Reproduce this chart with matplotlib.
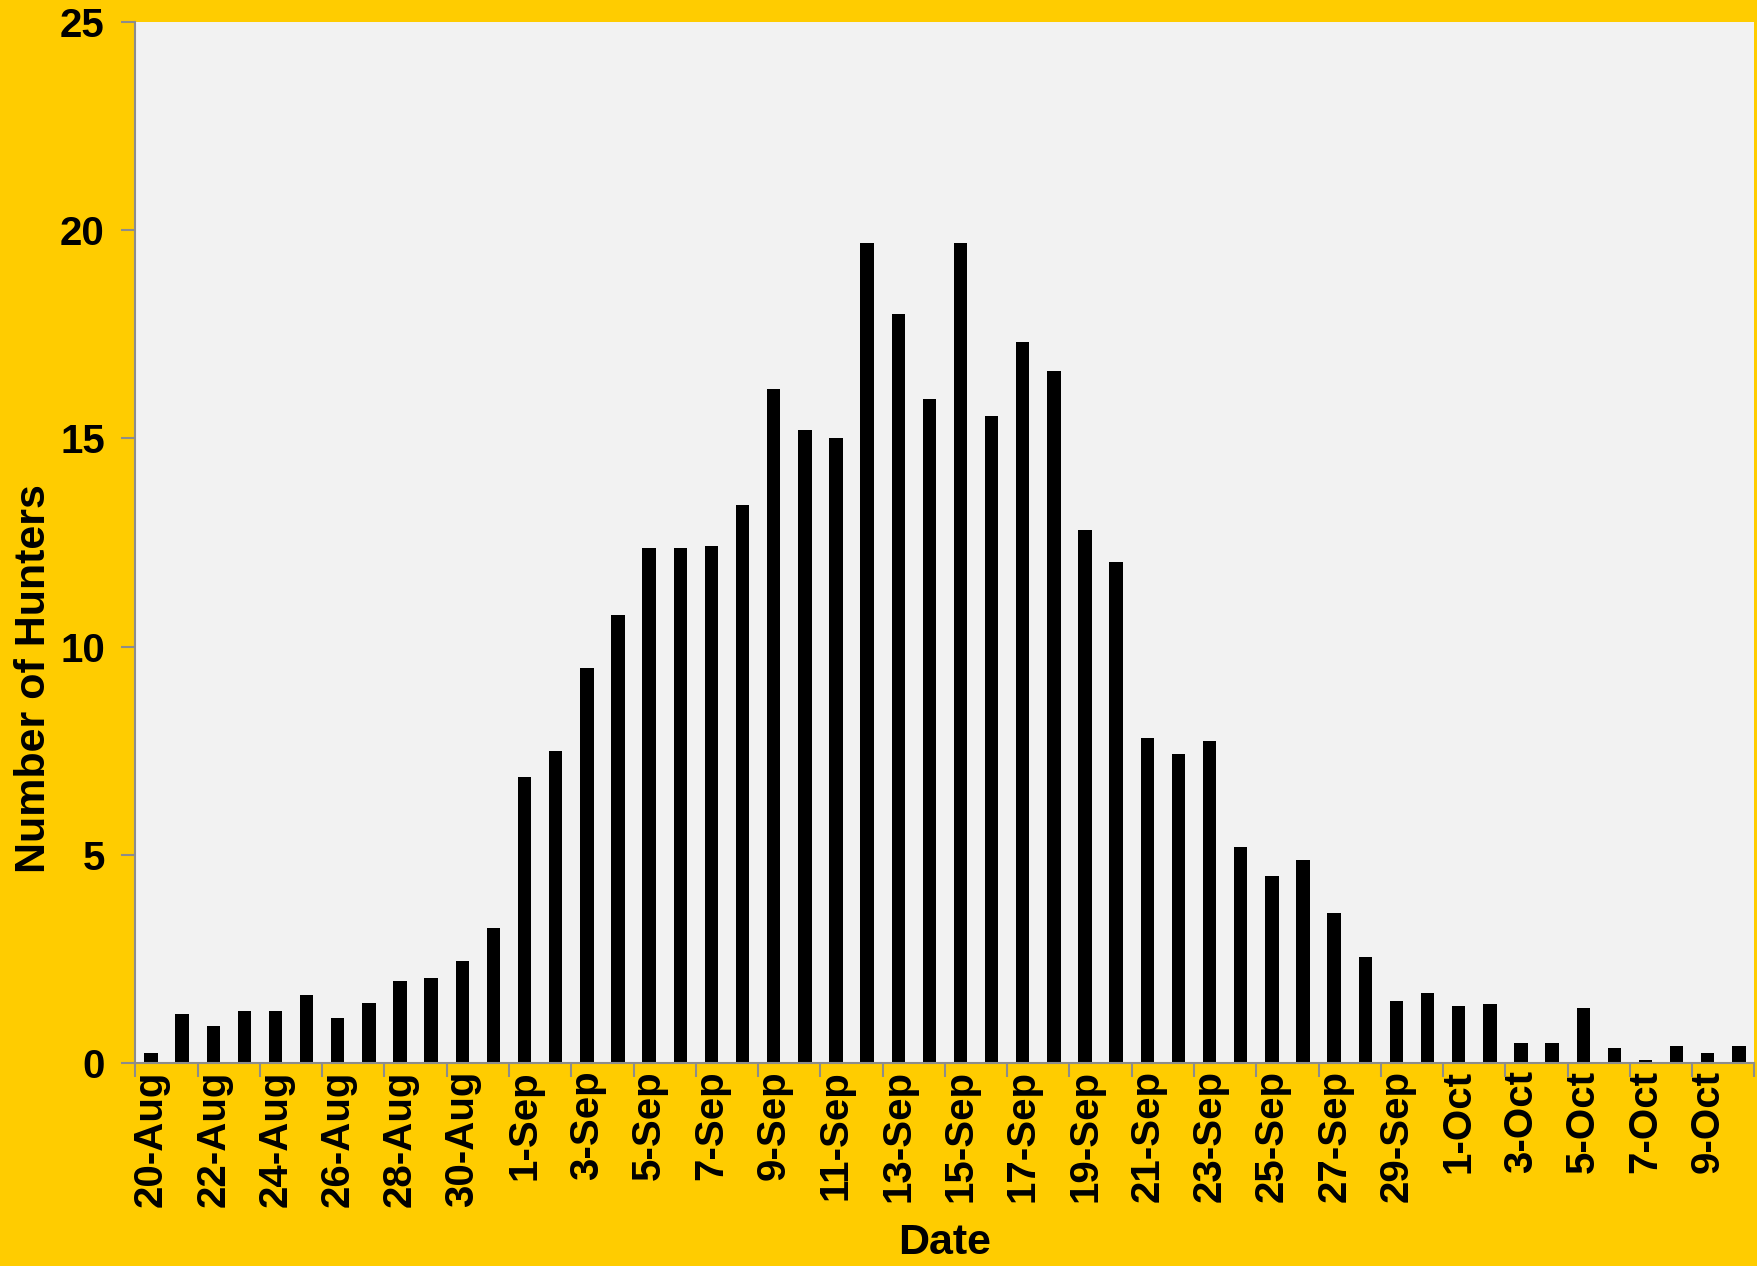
import matplotlib.pyplot as plt

dates = ['20-Aug', '21-Aug', '22-Aug', '23-Aug', '24-Aug', '25-Aug', '26-Aug', '27-Aug',
         '28-Aug', '29-Aug', '30-Aug', '31-Aug',
         '1-Sep', '2-Sep', '3-Sep', '4-Sep', '5-Sep', '6-Sep', '7-Sep', '8-Sep', '9-Sep',
         '10-Sep', '11-Sep', '12-Sep', '13-Sep', '14-Sep', '15-Sep', '16-Sep', '17-Sep',
         '18-Sep', '19-Sep', '20-Sep', '21-Sep', '22-Sep', '23-Sep', '24-Sep', '25-Sep',
         '26-Sep', '27-Sep', '28-Sep', '29-Sep', '30-Sep',
         '1-Oct', '2-Oct', '3-Oct', '4-Oct', '5-Oct', '6-Oct', '7-Oct', '8-Oct', '9-Oct',
         '10-Oct']

hunters = [0.24, 1.18, 0.89, 1.26, 1.26, 1.64, 1.08, 1.45, 1.99, 2.04, 2.45, 3.25,
           6.88, 7.5, 9.49, 10.75, 12.37, 12.37, 12.42, 13.41, 16.18, 15.19, 15.0,
           19.68, 17.98, 15.94, 19.68, 15.54, 17.31, 16.61, 12.8, 12.04, 7.82, 7.42,
           7.74, 5.19, 4.49, 4.87, 3.6, 2.55, 1.5, 1.69,
           1.37, 1.42, 0.48, 0.48, 1.32, 0.38, 0.08, 0.43, 0.24, 0.43]

plt.rcParams['font.family'] = ['Liberation Sans', 'DejaVu Sans']
plt.rcParams['font.weight'] = 'bold'

fig = plt.figure(figsize=(17.58, 12.66), dpi=100, facecolor='#ffcc00')
ax = fig.add_axes([0.077, 0.16, 0.921, 0.823])
ax.set_facecolor('#f2f2f2')

x = list(range(len(dates)))
ax.bar(x, hunters, width=0.43, color='black')

ax.set_xlim(-0.5, len(dates) - 0.5)
ax.set_ylim(0, 25)
ax.set_yticks([0, 5, 10, 15, 20, 25])

ax.set_xticks(x[::2])
ax.set_xticklabels(dates[::2], rotation=90, fontsize=29, fontweight='bold')
ax.set_xticks([i - 0.5 for i in range(0, len(dates) + 1, 2)], minor=True)
ax.tick_params(axis='x', which='major', length=0, pad=5)
ax.tick_params(axis='x', which='minor', length=10, width=1.5, color='#8c8c8c', direction='out')
ax.tick_params(axis='y', length=10, width=1.5, color='#8c8c8c', labelsize=29, pad=12)
for lab in ax.get_yticklabels():
    lab.set_fontweight('bold')

for s in ['top', 'right']:
    ax.spines[s].set_visible(False)
for s in ['left', 'bottom']:
    ax.spines[s].set_color('#8c8c8c')
    ax.spines[s].set_linewidth(1.5)

ax.set_xlabel('Date', fontsize=31, fontweight='bold', labelpad=12)
ax.set_ylabel('Number of Hunters', fontsize=31, fontweight='bold')
ax.yaxis.set_label_coords(-0.050, 0.369)

fig.savefig('out.png', dpi=100, facecolor=fig.get_facecolor())
